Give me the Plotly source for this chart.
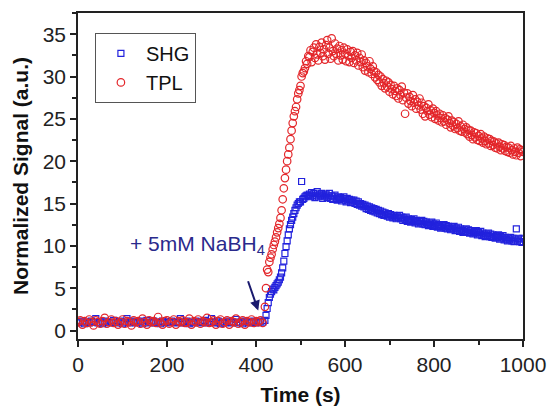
import plotly.graph_objects as go

# time stamps: 5 s sampling before the addition, 2.5 s after
time_before = list(range(0, 420, 5))
time_after = [420 + 2.5 * i for i in range(233)]
time_s = time_before + time_after

shg_before = [
    0.9, 1.0, 1.1, 0.8, 1.0, 0.9, 1.1, 1.0, 1.4, 0.9, 1.0, 0.8, 1.1, 1.0, 0.9, 1.0, 1.2, 0.9, 1.0, 1.1,
    0.8, 1.0, 1.4, 0.9, 1.1, 1.0, 0.9, 1.0, 1.1, 0.8, 1.0, 1.2, 0.9, 1.0, 1.1, 0.9, 1.0, 0.8, 1.1, 1.0,
    0.9, 1.0, 1.1, 1.0, 0.9, 1.0, 1.4, 0.9, 1.0, 1.1, 0.8, 1.0, 0.9, 1.1, 1.0, 0.9, 1.0, 1.2, 0.9, 1.0,
    1.4, 1.0, 0.9, 1.1, 0.8, 1.0, 0.9, 1.1, 1.0, 0.9, 1.0, 1.3, 0.9, 1.0, 0.8, 1.1, 1.0, 0.9, 1.0, 1.1,
    0.9, 1.0, 1.1, 1.0,
]
shg_after = [
    1.2, 1.8, 2.6, 3.3, 3.9, 4.3, 4.6, 4.9, 4.8, 5.1, 5.3, 5.5, 5.7, 6.0, 6.3, 6.8, 7.4, 8.2, 9.1, 9.9,
    10.6, 11.3, 12.0, 12.5, 13.0, 13.4, 13.8, 14.2, 14.5, 14.8, 15.0, 15.2, 15.2, 17.6, 15.5, 15.6, 15.8, 15.9, 16.0, 15.9,
    16.1, 15.8, 16.3, 15.9, 16.2, 15.7, 16.0, 16.4, 15.8, 16.1, 15.9, 16.2, 15.6, 16.0, 15.8, 16.1, 15.7, 15.9, 16.2, 15.6,
    15.9, 15.5, 15.8, 16.0, 15.6, 15.4, 15.8, 15.5, 15.7, 15.3, 15.6, 15.8, 15.4, 15.2, 15.6, 15.3, 15.5, 15.1, 15.4, 15.2,
    15.4, 15.0, 15.3, 14.9, 15.2, 14.8, 15.0, 14.7, 14.9, 14.6, 14.8, 14.4, 14.7, 14.3, 14.6, 14.2, 14.5, 14.1, 14.4, 14.0,
    14.3, 13.9, 14.2, 13.8, 14.1, 13.7, 14.0, 13.6, 13.9, 13.7, 13.5, 13.8, 13.4, 13.7, 13.5, 13.3, 13.6, 13.4, 13.2, 13.5,
    13.3, 13.6, 13.2, 13.4, 13.0, 13.3, 13.1, 13.4, 12.9, 13.2, 13.0, 12.8, 13.1, 12.9, 13.2, 12.7, 13.0, 12.8, 12.6, 12.9,
    12.7, 13.0, 12.6, 12.9, 12.5, 12.8, 12.6, 12.4, 12.7, 12.5, 12.8, 12.3, 12.6, 12.4, 12.7, 12.2, 12.5, 12.3, 12.1, 12.4,
    12.2, 12.5, 12.1, 12.4, 12.0, 12.3, 12.1, 11.9, 12.2, 12.0, 12.3, 11.8, 12.1, 11.9, 12.2, 11.7, 12.0, 11.8, 11.6, 11.9,
    11.7, 12.0, 11.6, 11.9, 11.5, 11.8, 11.6, 11.4, 11.7, 11.5, 11.8, 11.3, 11.6, 11.4, 11.7, 11.2, 11.5, 11.3, 11.1, 11.4,
    11.2, 11.5, 11.1, 11.4, 11.0, 11.3, 11.1, 10.9, 11.2, 11.0, 11.3, 10.8, 11.1, 10.9, 11.2, 10.7, 11.0, 10.8, 10.6, 10.9,
    10.7, 11.0, 10.6, 10.9, 10.5, 10.8, 12.0, 10.6, 10.9, 10.5, 10.8, 10.4,
    10.9,
]

tpl_before = [
    1.0, 1.2, 0.7, 1.1, 0.9, 1.3, 1.0, 0.6, 1.2, 1.0, 0.8, 1.1, 1.5, 0.8, 1.0, 1.3, 0.9, 1.1, 0.7, 1.0,
    1.3, 0.8, 1.1, 1.0, 0.6, 1.2, 1.0, 1.1, 0.8, 1.4, 1.0, 0.7, 1.2, 1.0, 1.1, 0.9, 1.6, 1.0, 0.7, 1.1,
    1.2, 0.8, 1.0, 1.3, 0.7, 1.1, 1.0, 1.2, 0.9, 1.0, 1.4, 0.7, 1.1, 1.0, 1.3, 0.8, 1.1, 1.0, 1.5, 0.9,
    1.0, 1.2, 0.7, 1.1, 1.3, 0.8, 1.0, 1.2, 0.7, 1.1, 1.0, 1.4, 0.8, 1.0, 1.2, 0.7, 1.1, 1.0, 1.3, 0.9,
    1.1, 1.0, 1.2, 0.9,
]
tpl_after = [
    2.8, 5.0, 7.2, 6.9, 8.1, 8.6, 9.0, 9.6, 10.1, 10.5, 11.0, 11.6, 12.1, 12.6, 13.3, 14.2, 15.5, 16.8, 18.0, 19.0,
    20.0, 20.8, 21.6, 22.6, 23.6, 24.5, 25.3, 25.9, 26.4, 27.3, 28.0, 28.4, 28.9, 30.0, 30.4, 30.6, 31.0, 31.8, 31.5, 32.4,
    32.3, 33.1, 31.7, 32.9, 33.4, 32.2, 33.8, 32.6, 31.9, 33.5, 32.8, 34.0, 32.4, 33.2, 32.0, 33.7, 34.3, 32.7, 33.4, 32.1,
    34.5, 33.0, 32.4, 33.9, 32.7, 33.3, 31.9, 33.6, 32.5, 33.1, 32.0, 33.4, 32.7, 31.8, 33.2, 32.4, 31.7, 32.9, 32.2, 33.0,
    31.6, 32.5, 31.9, 32.8, 31.3, 32.2, 31.7, 32.6, 31.1, 31.9, 30.7, 31.6, 31.2, 30.5, 31.8, 30.9, 30.3, 31.2, 30.6, 29.9,
    30.5, 29.6, 30.2, 29.3, 30.0, 28.9, 29.7, 29.2, 28.6, 29.5, 28.8, 29.3, 28.2, 29.0, 28.5, 27.9, 28.9, 28.3, 27.7, 28.6,
    27.4, 28.4, 27.8, 28.8, 27.2, 28.1, 25.6, 27.5, 28.0, 26.8, 27.6, 27.1, 26.5, 27.8, 26.9, 27.3, 26.2, 27.0, 26.6, 27.4,
    26.1, 26.9, 25.6, 26.5, 25.3, 26.3, 25.9, 26.7, 25.5, 26.0, 25.2, 26.2, 25.7, 25.0, 25.9, 25.4, 24.8, 25.6, 25.1, 24.6,
    25.4, 24.7, 25.1, 24.3, 24.9, 25.3, 24.5, 24.0, 24.8, 24.2, 24.6, 23.8, 24.4, 23.9, 24.7, 23.6, 24.1, 23.5, 24.3, 23.8,
    23.4, 24.0, 23.2, 23.7, 22.9, 23.6, 23.1, 22.6, 23.4, 22.8, 23.3, 22.5, 23.0, 22.4, 23.2, 22.7, 22.2, 22.9, 22.4, 22.0,
    22.7, 22.1, 22.6, 21.8, 22.4, 21.9, 22.3, 21.6, 22.1, 21.5, 22.2, 21.7, 21.3, 22.0, 21.5, 21.9, 21.2, 21.7, 21.1, 21.6,
    21.0, 21.8, 21.3, 20.8, 21.5, 21.1, 20.7, 21.6, 21.0, 21.4, 20.6, 21.3,
    21.1,
]

shg = shg_before + shg_after
tpl = tpl_before + tpl_after
assert len(shg) == len(time_s), (len(shg), len(time_s))
assert len(tpl) == len(time_s), (len(tpl), len(time_s))

x_ticks = [0, 200, 400, 600, 800, 1000]
y_ticks = [0, 5, 10, 15, 20, 25, 30, 35]

FONT = "Liberation Sans, Arial, sans-serif"

fig = go.Figure()
fig.add_trace(go.Scatter(
    x=time_s, y=shg, mode="markers", name="SHG",
    marker=dict(symbol="square-open", size=6, color="#2222dd", line=dict(width=1.2)),
))
fig.add_trace(go.Scatter(
    x=time_s, y=tpl, mode="markers", name="TPL",
    marker=dict(symbol="circle-open", size=7.5, color="#e3262a", line=dict(width=1.2)),
))

axis_common = dict(
    showgrid=False, zeroline=False, showline=True, linecolor="#222", linewidth=1.5,
    mirror=True, ticks="outside", ticklen=6, tickwidth=1.5, tickcolor="#222",
    tickfont=dict(family=FONT, size=21, color="#222"), automargin=False,
)

fig.update_xaxes(
    range=[0, 1000], tickvals=x_ticks,
    minor=dict(ticks="outside", ticklen=4, tickwidth=1.5, tickcolor="#222", dtick=100, tick0=0),
    title=dict(text="<b>Time (s)</b>", font=dict(family=FONT, size=21, color="#111"), standoff=12),
    **axis_common,
)
fig.update_yaxes(
    range=[-1, 37.5], tickvals=y_ticks,
    minor=dict(ticks="outside", ticklen=4, tickwidth=1.5, tickcolor="#222", dtick=2.5, tick0=0),
    title=dict(text="<b>Normalized Signal (a.u.)</b>", font=dict(family=FONT, size=21, color="#111"), standoff=8),
    **axis_common,
)

fig.add_annotation(
    x=405, y=2.36, ax=381, ay=6.0, xref="x", yref="y", axref="x", ayref="y",
    text="", showarrow=True, arrowhead=2, arrowsize=1, arrowwidth=2, arrowcolor="#1a1a6e",
)
fig.add_annotation(
    x=112, y=10.1, xref="x", yref="y", xanchor="left", yanchor="middle",
    text="+ 5mM NaBH<sub>4</sub>", showarrow=False,
    font=dict(family=FONT, size=21, color="#2a2a8c"),
)

fig.update_layout(
    width=552, height=411,
    margin=dict(l=78, r=29, t=13, b=72),
    paper_bgcolor="white", plot_bgcolor="white",
    font=dict(family=FONT, size=20, color="#222"),
    legend=dict(
        x=0.038, y=0.939, xanchor="left", yanchor="top",
        bordercolor="#555", borderwidth=1, bgcolor="white",
        font=dict(family=FONT, size=20, color="#111"),
        itemsizing="trace", tracegroupgap=0, itemwidth=40,
    ),
)

fig.write_html("out.html")
